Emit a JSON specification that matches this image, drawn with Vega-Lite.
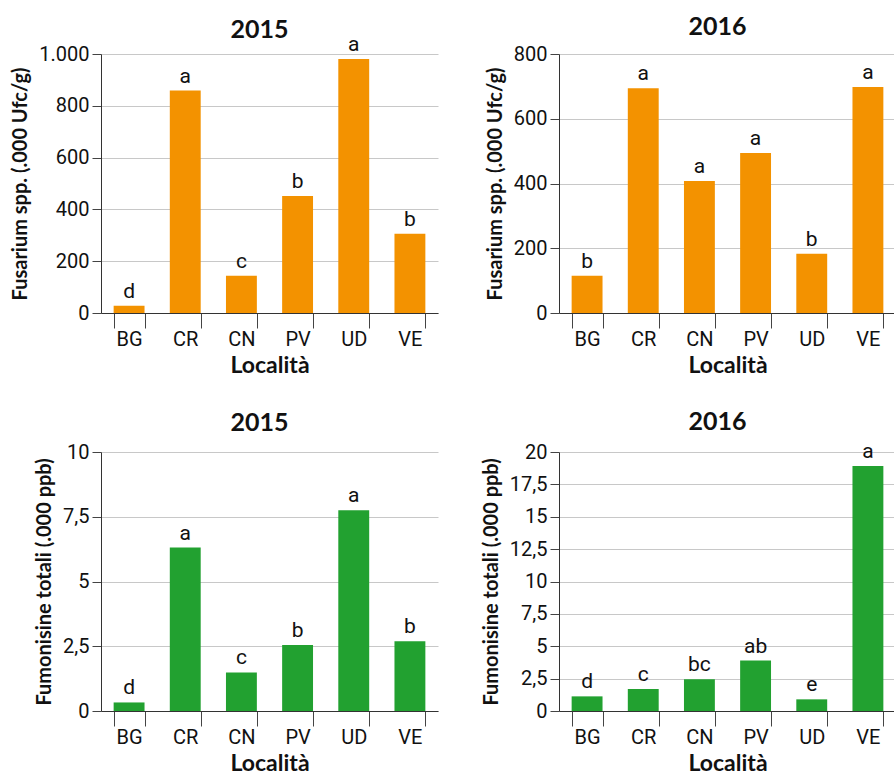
{
  "$schema": "https://vega.github.io/schema/vega-lite/v6.json",
  "padding": {"left": 10, "top": 15, "right": 0, "bottom": 0},
  "background": "white",
  "config": {
    "locale": {"number": {"decimal": ",", "thousands": ".", "grouping": [3], "currency": ["€", ""]}},
    "view": {"stroke": null},
    "font": "Roboto",
    "axisX": {
      "domainColor": "#333", "tickColor": "#444", "tickBand": "extent", "tickSize": 15,
      "labelFont": "Roboto", "labelFontSize": 20, "labelPadding": 1, "labelAngle": 0, "labelColor": "#111",
      "titleFont": "Lato", "titleFontSize": 23, "titleFontWeight": "bold", "titleColor": "#111",
      "titlePadding": 5, "grid": false
    },
    "axisY": {
      "domainColor": "#333", "tickColor": "#444", "tickSize": 9, "gridColor": "#c8c8c8",
      "labelFont": "Roboto", "labelFontSize": 20, "labelColor": "#111", "labelPadding": 3,
      "titleFont": "Lato", "titleFontSize": 20, "titleFontWeight": "bold", "titleColor": "#111",
      "titlePadding": 8, "format": ",.1~f"
    },
    "title": {"font": "Lato", "fontSize": 25, "fontWeight": "bold", "color": "#111", "dx": -10},
    "scale": {"bandPaddingInner": 0.45, "bandPaddingOuter": 0.225}
  },
  "datasets": {
    "fus2015": [
      {"loc": "BG", "val": 28, "sig": "d"},
      {"loc": "CR", "val": 859, "sig": "a"},
      {"loc": "CN", "val": 144, "sig": "c"},
      {"loc": "PV", "val": 452, "sig": "b"},
      {"loc": "UD", "val": 981, "sig": "a"},
      {"loc": "VE", "val": 306, "sig": "b"}
    ],
    "fus2016": [
      {"loc": "BG", "val": 115, "sig": "b"},
      {"loc": "CR", "val": 694, "sig": "a"},
      {"loc": "CN", "val": 408, "sig": "a"},
      {"loc": "PV", "val": 494, "sig": "a"},
      {"loc": "UD", "val": 183, "sig": "b"},
      {"loc": "VE", "val": 698, "sig": "a"}
    ],
    "fum2015": [
      {"loc": "BG", "val": 0.33, "sig": "d"},
      {"loc": "CR", "val": 6.31, "sig": "a"},
      {"loc": "CN", "val": 1.49, "sig": "c"},
      {"loc": "PV", "val": 2.55, "sig": "b"},
      {"loc": "UD", "val": 7.75, "sig": "a"},
      {"loc": "VE", "val": 2.69, "sig": "b"}
    ],
    "fum2016": [
      {"loc": "BG", "val": 1.13, "sig": "d"},
      {"loc": "CR", "val": 1.7, "sig": "c"},
      {"loc": "CN", "val": 2.45, "sig": "bc"},
      {"loc": "PV", "val": 3.89, "sig": "ab"},
      {"loc": "UD", "val": 0.9, "sig": "e"},
      {"loc": "VE", "val": 18.92, "sig": "a"}
    ]
  },
  "columns": 2,
  "spacing": {"row": 32, "column": 43},
  "concat": [
    {
      "title": {"text": "2015", "offset": -9},
      "width": 337, "height": 259,
      "data": {"name": "fus2015"},
      "encoding": {
        "x": {"field": "loc", "type": "nominal", "sort": ["BG", "CR", "CN", "PV", "UD", "VE"], "title": "Località"},
        "y": {"field": "val", "type": "quantitative", "scale": {"domain": [0, 1000]}, "axis": {"values": [0, 200, 400, 600, 800, 1000]}, "title": "Fusarium spp. (.000 Ufc/g)"}
      },
      "layer": [
        {"mark": {"type": "bar", "color": "#F39200"}},
        {"mark": {"type": "text", "baseline": "bottom", "dy": -4, "fontSize": 21, "color": "#111"}, "encoding": {"text": {"field": "sig"}}}
      ]
    },
    {
      "title": {"text": "2016", "offset": 4},
      "width": 337, "height": 259,
      "data": {"name": "fus2016"},
      "encoding": {
        "x": {"field": "loc", "type": "nominal", "sort": ["BG", "CR", "CN", "PV", "UD", "VE"], "title": "Località"},
        "y": {"field": "val", "type": "quantitative", "scale": {"domain": [0, 800]}, "axis": {"values": [0, 200, 400, 600, 800]}, "title": "Fusarium spp. (.000 Ufc/g)"}
      },
      "layer": [
        {"mark": {"type": "bar", "color": "#F39200"}},
        {"mark": {"type": "text", "baseline": "bottom", "dy": -4, "fontSize": 21, "color": "#111"}, "encoding": {"text": {"field": "sig"}}}
      ]
    },
    {
      "title": {"text": "2015", "offset": 6},
      "width": 337, "height": 259,
      "data": {"name": "fum2015"},
      "encoding": {
        "x": {"field": "loc", "type": "nominal", "sort": ["BG", "CR", "CN", "PV", "UD", "VE"], "title": "Località"},
        "y": {"field": "val", "type": "quantitative", "scale": {"domain": [0, 10]}, "axis": {"values": [0, 2.5, 5, 7.5, 10]}, "title": "Fumonisine totali (.000 ppb)"}
      },
      "layer": [
        {"mark": {"type": "bar", "color": "#22A130"}},
        {"mark": {"type": "text", "baseline": "bottom", "dy": -4, "fontSize": 21, "color": "#111"}, "encoding": {"text": {"field": "sig"}}}
      ]
    },
    {
      "title": {"text": "2016", "offset": 6},
      "width": 337, "height": 259,
      "data": {"name": "fum2016"},
      "encoding": {
        "x": {"field": "loc", "type": "nominal", "sort": ["BG", "CR", "CN", "PV", "UD", "VE"], "title": "Località"},
        "y": {"field": "val", "type": "quantitative", "scale": {"domain": [0, 20]}, "axis": {"values": [0, 2.5, 5, 7.5, 10, 12.5, 15, 17.5, 20]}, "title": "Fumonisine totali (.000 ppb)"}
      },
      "layer": [
        {"mark": {"type": "bar", "color": "#22A130"}},
        {"mark": {"type": "text", "baseline": "bottom", "dy": -4, "fontSize": 21, "color": "#111"}, "encoding": {"text": {"field": "sig"}}}
      ]
    }
  ]
}
